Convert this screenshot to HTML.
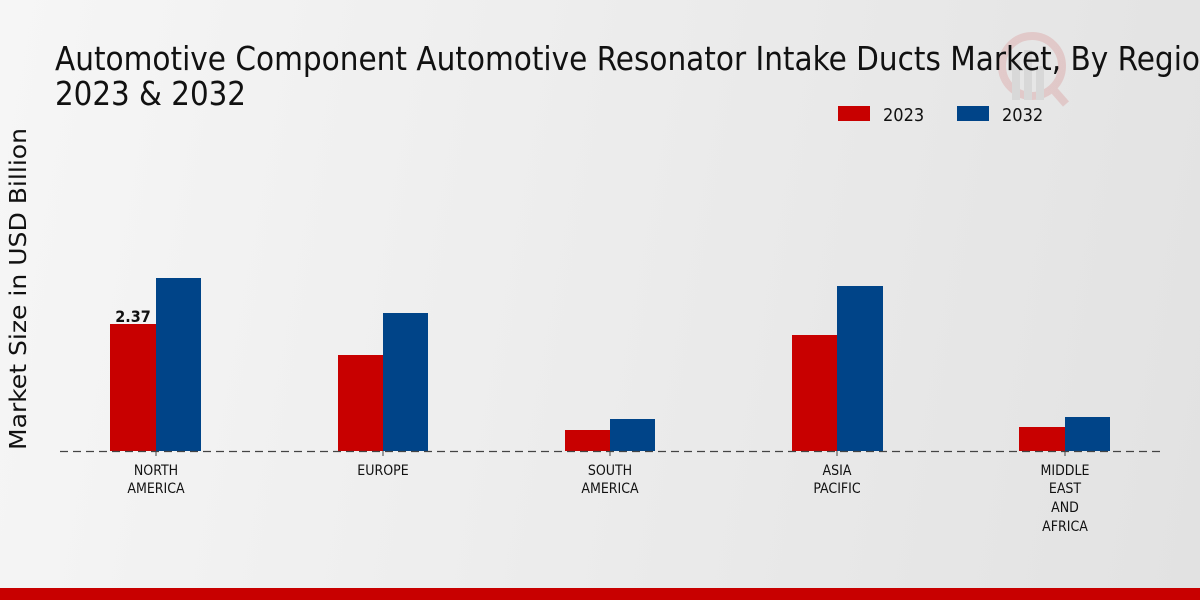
<!DOCTYPE html>
<html><head><meta charset="utf-8"><style>
html,body{margin:0;padding:0;}
body{width:1200px;height:600px;overflow:hidden;background:linear-gradient(100deg,#f6f6f6 0%,#ececec 50%,#e2e2e2 100%);}
svg{display:block;font-family:"DejaVu Sans Condensed","DejaVu Sans","Liberation Sans",sans-serif;}
</style></head><body>
<svg width="1200" height="600" viewBox="0 0 1200 600" xmlns="http://www.w3.org/2000/svg">
<g opacity="0.12">
<circle cx="1032" cy="66" r="30" fill="none" stroke="#c00000" stroke-width="8"/>
<rect x="1012" y="60" width="8" height="40" fill="#777"/>
<rect x="1024" y="50" width="8" height="50" fill="#777"/>
<rect x="1036" y="66" width="8" height="34" fill="#777"/>
<line x1="1052" y1="88" x2="1066" y2="104" stroke="#c00000" stroke-width="8"/>
</g>
<text x="55" y="70" font-size="33" fill="#111" textLength="1145" lengthAdjust="spacingAndGlyphs">Automotive Component Automotive Resonator Intake Ducts Market, By Regio</text>
<text x="55" y="105" font-size="33" fill="#111" textLength="191" lengthAdjust="spacingAndGlyphs">2023 &amp; 2032</text>
<rect x="838" y="106" width="32" height="15" fill="#c80000"/>
<text x="883" y="121" font-size="18" fill="#111">2023</text>
<rect x="957" y="106" width="32" height="15" fill="#004488"/>
<text x="1002" y="121" font-size="18" fill="#111">2032</text>
<text transform="translate(26,289) rotate(-90)" font-size="23" fill="#111" text-anchor="middle" textLength="322" lengthAdjust="spacingAndGlyphs">Market Size in USD Billion</text>
<g fill="#c80000">
<rect x="110" y="324" width="46" height="127"/>
<rect x="338" y="355" width="45" height="96"/>
<rect x="565" y="430" width="45" height="21"/>
<rect x="792" y="335" width="45" height="116"/>
<rect x="1019" y="427" width="46" height="24"/>
</g>
<g fill="#004488">
<rect x="156" y="278" width="45" height="173"/>
<rect x="383" y="313" width="45" height="138"/>
<rect x="610" y="419" width="45" height="32"/>
<rect x="837" y="286" width="46" height="165"/>
<rect x="1065" y="417" width="45" height="34"/>
</g>
<line x1="60" y1="451.5" x2="1160" y2="451.5" stroke="#444" stroke-width="1.2" stroke-dasharray="8,5"/>
<g stroke="#444"><line x1="156" y1="451" x2="156" y2="456"/><line x1="383" y1="451" x2="383" y2="456"/><line x1="610" y1="451" x2="610" y2="456"/><line x1="837" y1="451" x2="837" y2="456"/><line x1="1065" y1="451" x2="1065" y2="456"/></g>
<text x="133" y="322" font-size="16" font-weight="bold" fill="#111" text-anchor="middle">2.37</text>
<g font-size="14" fill="#111" text-anchor="middle">
<text x="156" y="475">NORTH</text><text x="156" y="493">AMERICA</text>
<text x="383" y="475">EUROPE</text>
<text x="610" y="475">SOUTH</text><text x="610" y="493">AMERICA</text>
<text x="837" y="475">ASIA</text><text x="837" y="493">PACIFIC</text>
<text x="1065" y="475">MIDDLE</text><text x="1065" y="493">EAST</text><text x="1065" y="512">AND</text><text x="1065" y="531">AFRICA</text>
</g>
<rect x="0" y="588" width="1200" height="12" fill="#c80000"/>
</svg>
</body></html>
